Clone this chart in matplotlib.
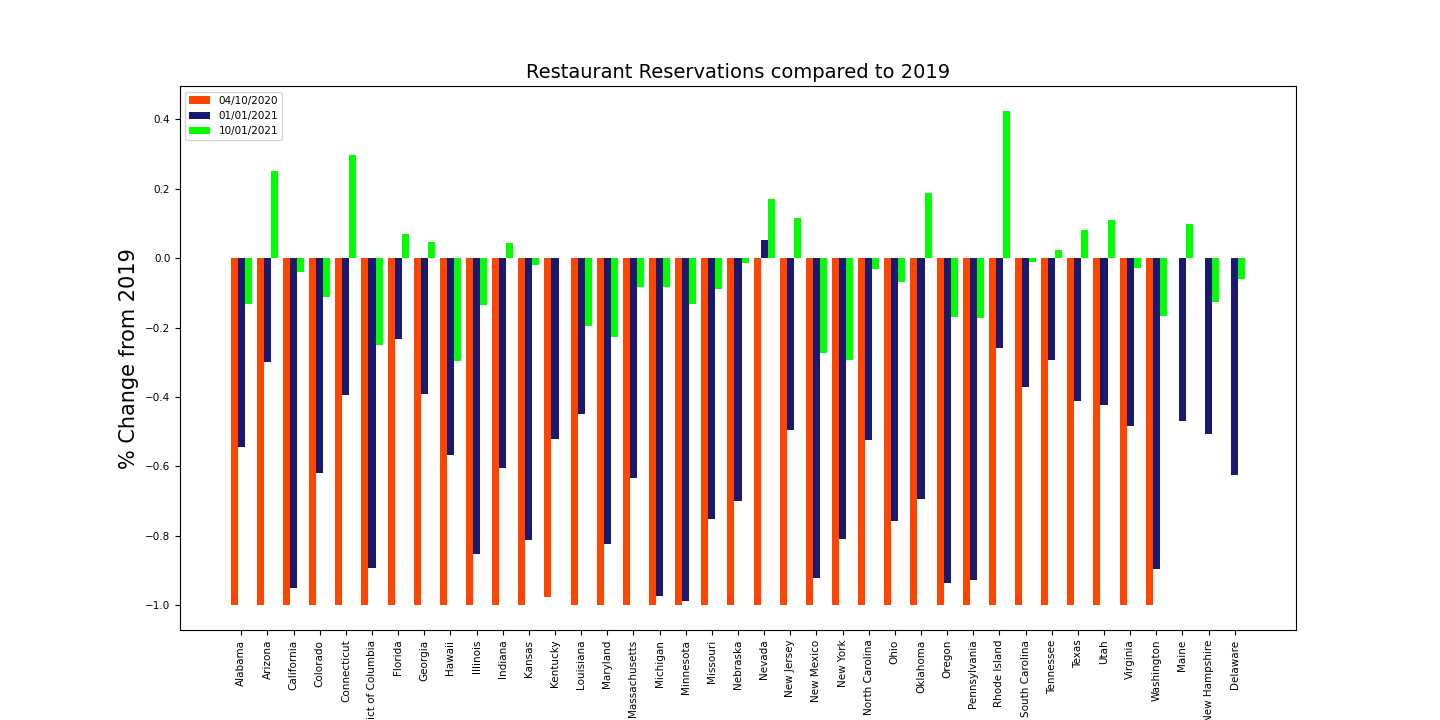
import numpy as np
import matplotlib
matplotlib.use("Agg")
import matplotlib.pyplot as plt

states = ["Alabama", "Arizona", "California", "Colorado", "Connecticut", "District of Columbia",
          "Florida", "Georgia", "Hawaii", "Illinois", "Indiana", "Kansas", "Kentucky", "Louisiana",
          "Maryland", "Massachusetts", "Michigan", "Minnesota", "Missouri", "Nebraska", "Nevada",
          "New Jersey", "New Mexico", "New York", "North Carolina", "Ohio", "Oklahoma", "Oregon",
          "Pennsylvania", "Rhode Island", "South Carolina", "Tennessee", "Texas", "Utah", "Virginia",
          "Washington", "Maine", "New Hampshire", "Delaware"]

nan = np.nan
apr_2020 = [-1] * 12 + [-0.977] + [-1] * 23 + [nan, nan, nan]
jan_2021 = [-0.545, -0.30, -0.95, -0.62, -0.395, -0.893, -0.233, -0.392, -0.568, -0.853,
            -0.605, -0.813, -0.522, -0.45, -0.824, -0.634, -0.974, -0.988, -0.752, -0.70,
            0.052, -0.496, -0.922, -0.81, -0.524, -0.758, -0.695, -0.937, -0.928, -0.26,
            -0.372, -0.294, -0.412, -0.424, -0.484, -0.896, -0.47, -0.507, -0.625]
oct_2021 = [-0.133, 0.25, -0.04, -0.112, 0.297, -0.251, 0.069, 0.046, -0.297, -0.135,
            0.043, -0.02, nan, -0.196, -0.228, -0.084, -0.084, -0.133, -0.09, -0.014,
            0.17, 0.115, -0.274, -0.294, -0.032, -0.069, 0.187, -0.17, -0.173, 0.424,
            -0.012, 0.023, 0.08, 0.11, -0.029, -0.167, 0.10, -0.127, -0.06]

x = np.arange(len(states))
w = 0.27

fig, ax = plt.subplots(figsize=(14.4, 7.2), dpi=100)
fig.subplots_adjust(left=0.125, right=0.9, top=0.88, bottom=0.125)
ax.bar(x - w, apr_2020, w, color="#ff4500", label="04/10/2020")
ax.bar(x, jan_2021, w, color="#191970", label="01/01/2021")
ax.bar(x + w, oct_2021, w, color="#00ff00", label="10/01/2021")

ax.set_xticks(x)
ax.set_xticklabels(states, rotation=90, fontsize=7.5)
ax.tick_params(axis="y", labelsize=7.5)
ax.set_title("Restaurant Reservations compared to 2019", fontsize=14)
ax.set_ylabel("% Change from 2019", fontsize=15)
ax.legend(loc="upper left", fontsize=7.5)

fig.savefig("out.png")
